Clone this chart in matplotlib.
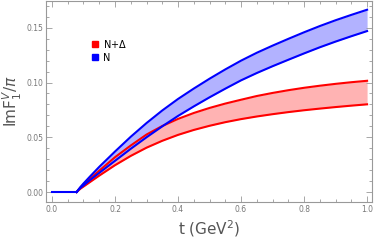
import matplotlib.pyplot as plt
from matplotlib.ticker import MultipleLocator, FormatStrFormatter

# pion-pair threshold and curve values
t_flat = [0.0, 0.078]
t = [0.078, 0.09, 0.1, 0.12, 0.15, 0.2, 0.25, 0.3, 0.35, 0.4, 0.45, 0.5,
     0.55, 0.6, 0.65, 0.7, 0.75, 0.8, 0.85, 0.9, 0.95, 1.0]
n_upper = [0.0, 0.0045, 0.0078, 0.014, 0.023, 0.037, 0.0505, 0.063, 0.0745, 0.085, 0.0945,
           0.1035, 0.112, 0.120, 0.1272, 0.1337, 0.1399, 0.1459, 0.1516, 0.1569, 0.1618, 0.1665]
n_lower = [0.0, 0.0037, 0.006, 0.0108, 0.0175, 0.0285, 0.0395, 0.050, 0.060, 0.0695, 0.0782,
           0.0865, 0.0944, 0.102, 0.1087, 0.1149, 0.1208, 0.1266, 0.1322, 0.1374, 0.1423, 0.147]
nd_upper = [0.0, 0.004, 0.0068, 0.012, 0.0195, 0.0318, 0.0425, 0.0525, 0.0603, 0.0668, 0.0722,
            0.0768, 0.0808, 0.0843, 0.0877, 0.0905, 0.093, 0.0952, 0.0971, 0.0988, 0.1003, 0.1016]
nd_lower = [0.0, 0.003, 0.005, 0.009, 0.015, 0.0245, 0.033, 0.0405, 0.0468, 0.0522, 0.0567,
            0.0605, 0.0638, 0.0666, 0.069, 0.0711, 0.073, 0.0747, 0.0762, 0.0776, 0.0789, 0.0801]

red = '#ff0000'
blue = '#0000ff'
grey = '#999999'

fig = plt.figure(figsize=(3.74, 2.45), dpi=100)
ax = fig.add_axes([0.123, 0.1755, 0.872, 0.821])

ax.fill_between(t, nd_lower, nd_upper, color='#ffb3b3', lw=0)
ax.fill_between(t, n_lower, n_upper, color='#aaaaff', lw=0, alpha=0.9)
ax.plot(t, nd_upper, color=red, lw=1.5)
ax.plot(t, nd_lower, color=red, lw=1.5)
ax.plot(t, n_upper, color=blue, lw=1.5)
ax.plot(t, n_lower, color=blue, lw=1.5)
ax.plot(t_flat, [0, 0], color=blue, lw=1.5)

ax.set_xlim(-0.019, 1.016)
ax.set_ylim(-0.0091, 0.1746)

ax.xaxis.set_major_locator(MultipleLocator(0.2))
ax.xaxis.set_minor_locator(MultipleLocator(0.05))
ax.yaxis.set_major_locator(MultipleLocator(0.05))
ax.yaxis.set_minor_locator(MultipleLocator(0.01))
ax.xaxis.set_major_formatter(FormatStrFormatter('%.1f'))
ax.yaxis.set_major_formatter(FormatStrFormatter('%.2f'))
ax.tick_params(which='both', direction='in', top=True, right=True,
               color=grey, labelcolor='#777777', labelsize=5.5, width=0.6)
ax.tick_params(which='major', length=4, pad=2)
ax.tick_params(which='minor', length=2.2)
for s in ax.spines.values():
    s.set_color(grey)
    s.set_linewidth(0.8)

ax.set_xlabel(r't (GeV$^2$)', fontsize=11, color='#555555', labelpad=3)
ax.set_ylabel(r'Im$\mathrm{F}_1^V/\pi$', fontsize=11, color='#555555', va='center')
ax.yaxis.set_label_coords(-0.102, 0.5)

ax.plot([], [], 's', color=red, ms=5, label=r'N+$\Delta$')
ax.plot([], [], 's', color=blue, ms=5, label='N')
ax.legend(loc='upper left', bbox_to_anchor=(0.11, 0.86), frameon=False, fontsize=7,
          handlelength=0.8, handletextpad=0.5, labelspacing=0.3)

fig.savefig('out.png', dpi=100)
